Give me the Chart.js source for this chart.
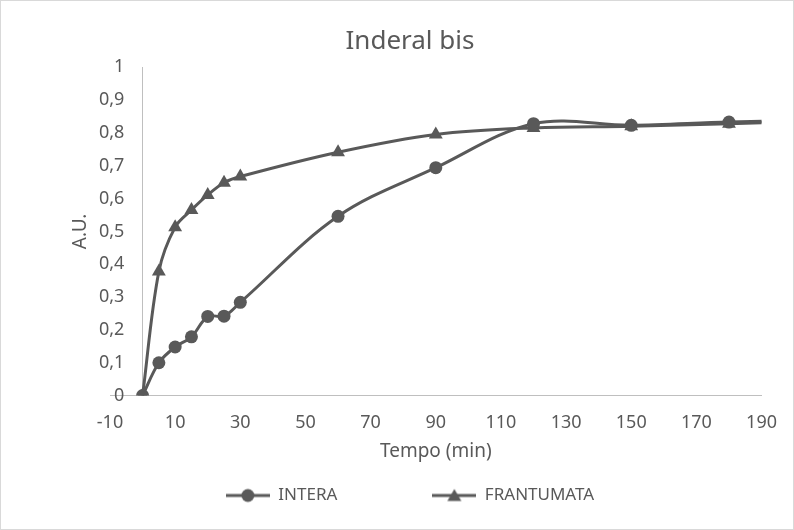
<!DOCTYPE html>
<html>
<head>
<meta charset="utf-8">
<script src="https://cdn.jsdelivr.net/npm/chart.js@4.4.1/dist/chart.umd.min.js"></script>
<style>
  html, body { margin: 0; padding: 0; background: #fff; }
  #wrap { width: 792px; height: 528px; border: 1px solid #d9d9d9; }
</style>
</head>
<body>
<div id="wrap"><canvas id="chart" width="792" height="528"></canvas></div>
<script>
// values
const timeMin = [0, 5, 10, 15, 20, 25, 30, 60, 90, 120, 150, 180, 240];
const intera = [0, 0.10, 0.148, 0.179, 0.241, 0.242, 0.284, 0.546, 0.694, 0.828, 0.823, 0.833, 0.845];
const frantumata = [0, 0.378, 0.513, 0.565, 0.611, 0.648, 0.667, 0.741, 0.795, 0.815, 0.82, 0.828, 0.845];
const seriesNames = ["INTERA", "FRANTUMATA"];
const xTicks = [-10, 10, 30, 50, 70, 90, 110, 130, 150, 170, 190];
const yTickLabels = ["0", "0,1", "0,2", "0,3", "0,4", "0,5", "0,6", "0,7", "0,8", "0,9", "1"];

const ink = "#595959";
const font = "'Noto Sans', sans-serif";

// little line-with-marker glyph like Excel draws in its legend
function legendGlyph(style) {
  const c = document.createElement("canvas");
  c.width = 44;
  c.height = 16;
  const g = c.getContext("2d");
  g.strokeStyle = ink;
  g.fillStyle = ink;
  g.lineWidth = 3;
  g.beginPath();
  g.moveTo(0, 8);
  g.lineTo(44, 8);
  g.stroke();
  g.beginPath();
  if (style === "circle") {
    g.arc(22, 8, 6.5, 0, Math.PI * 2);
  } else {
    g.moveTo(22, 1.5);
    g.lineTo(29, 13.5);
    g.lineTo(15, 13.5);
    g.closePath();
  }
  g.fill();
  return c;
}
const glyphs = [legendGlyph("circle"), legendGlyph("triangle")];

const toPoints = (ys) => ys.map((y, i) => ({ x: timeMin[i], y: y }));
const setYTicks = (scale) => {
  scale.ticks = yTickLabels.map((t, i) => ({ value: i / 10 }));
};

new Chart(document.getElementById("chart"), {
  type: "line",
  data: {
    datasets: [
      {
        label: seriesNames[0],
        data: toPoints(intera),
        borderColor: ink,
        backgroundColor: ink,
        borderWidth: 3,
        pointStyle: "circle",
        pointRadius: 6.5,
        pointBorderWidth: 0,
        tension: 0.35,
      },
      {
        label: seriesNames[1],
        data: toPoints(frantumata),
        borderColor: ink,
        backgroundColor: ink,
        borderWidth: 3,
        pointStyle: "triangle",
        pointRadius: 8,
        pointBorderWidth: 0,
        tension: 0.35,
      },
    ],
  },
  options: {
    responsive: false,
    animation: false,
    layout: { padding: { left: 49, right: 23, top: 0, bottom: 15 } },
    plugins: {
      tooltip: { enabled: false },
      title: {
        display: true,
        text: "Inderal bis",
        color: ink,
        font: { family: font, size: 26, weight: "normal" },
        padding: { top: 25, bottom: 10 },
      },
      legend: {
        position: "bottom",
        labels: {
          usePointStyle: true,
          pointStyleWidth: 44,
          color: ink,
          font: { family: font, size: 17 },
          padding: 10,
          generateLabels: (chart) =>
            chart.data.datasets.map((ds, i) => ({
              text: i === 0 ? ds.label + "\u2003\u2003\u2003\u2003\u2003" : ds.label,
              pointStyle: glyphs[i],
              fillStyle: ink,
              strokeStyle: ink,
              fontColor: ink,
              lineWidth: 0,
              hidden: false,
              datasetIndex: i,
            })),
        },
      },
    },
    scales: {
      x: {
        type: "linear",
        min: -10,
        max: 190,
        afterBuildTicks: (scale) => {
          scale.ticks = xTicks.map((v) => ({ value: v }));
        },
        ticks: {
          color: ink,
          font: { family: font, size: 18 },
          padding: 16,
          maxRotation: 0,
          callback: (v) => String(v),
        },
        grid: { display: false, drawTicks: false },
        border: { display: true, color: "#bfbfbf", width: 1 },
        title: {
          display: true,
          text: "Tempo (min)",
          color: ink,
          font: { family: font, size: 19 },
          padding: { top: -9, bottom: 14 },
        },
      },
      // axis line crossing at x = 0
      y: {
        type: "linear",
        position: { x: 0 },
        min: 0,
        max: 1,
        afterBuildTicks: setYTicks,
        afterFit: (scale) => {
          scale.width = 0;
        },
        ticks: { display: false },
        grid: { display: false, drawTicks: false },
        border: { display: true, color: "#bfbfbf", width: 1 },
      },
      // tick labels and title on the left
      y2: {
        type: "linear",
        position: "left",
        min: 0,
        max: 1,
        afterBuildTicks: setYTicks,
        afterFit: (scale) => {
          scale.width = 60;
        },
        ticks: {
          color: ink,
          font: { family: font, size: 18 },
          mirror: true,
          crossAlign: "far",
          padding: -11,
          callback: (v, i) => yTickLabels[i],
        },
        grid: { display: false, drawTicks: false },
        border: { display: false },
        title: {
          display: true,
          text: "A.U.",
          color: ink,
          font: { family: font, size: 19 },
          padding: { top: 19, bottom: 18 },
        },
      },
    },
  },
});
</script>
</body>
</html>
